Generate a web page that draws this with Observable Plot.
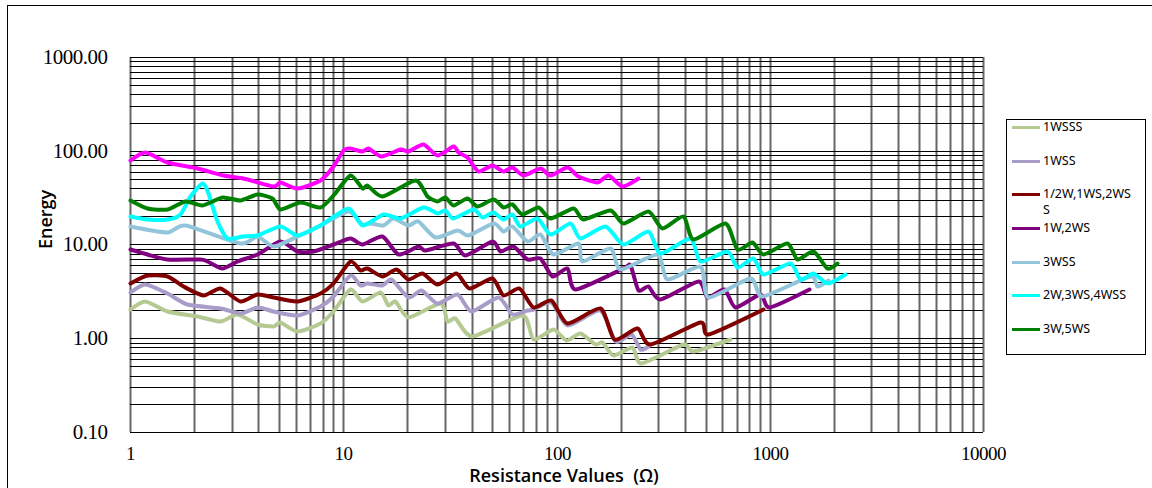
<!DOCTYPE html>
<html>
<head>
<meta charset="utf-8">
<script src="https://cdn.jsdelivr.net/npm/d3@7"></script>
<script src="https://cdn.jsdelivr.net/npm/@observablehq/plot@0.6"></script>
<style>
  html, body { margin: 0; padding: 0; background: #fff; }
  body { width: 1152px; height: 488px; position: relative; overflow: hidden; }
  #frame { position: absolute; left: 7px; top: 5px; width: 1300px; height: 700px; border: 1px solid #000; }
  #chart { position: absolute; left: 0; top: 0; }
  #legend { position: absolute; left: 1006px; top: 119px; width: 138px; height: 234px; border: 1px solid #000; background: #fff;
            font-family: "Noto Sans", sans-serif; font-size: 12.5px; color: #000; }
  .swatch { position: absolute; left: 5px; width: 28px; height: 3px; }
  .lab { position: absolute; left: 36px; white-space: nowrap; line-height: 12px; }
  #chart g[aria-label="y-axis tick label"] text, #chart g[aria-label="x-axis tick label"] text { letter-spacing: -0.5px; }
</style>
</head>
<body>
<div id="frame"></div>
<div id="chart"></div>
<div id="legend"></div>
<script>
// ---- tick values ----
const xTicks = [1, 10, 100, 1000, 10000];
const yTicks = [0.1, 1, 10, 100, 1000];
const minorSteps = [1, 2, 3, 4, 5, 6, 7, 8, 9];

// ---- legend names & colours ----
const names = ["1WSSS", "1WSS", "1/2W,1WS,2WSS", "1W,2WS", "3WSS", "2W,3WS,4WSS", "3W,5WS"];
const colors = ["#B5CA92", "#A89CC8", "#800000", "#800080", "#92C4DA", "#00FFFF", "#008000"];
const extraColor = "#FF00FF"; // series without legend entry

// ---- series: [resistance (Ω), energy] ----
const sMagenta = [[1,80],[1.18,96],[1.49,75],[2.06,66],[2.74,55.6],[3.4,51.2],[4.7,42.4],[5.05,46],[6.05,40.1],[7.78,49.1],[8.98,68.1],[10,102.5],[10.8,107],[12.2,98.4],[13.1,107],[15.1,88.5],[18.5,105],[20.2,98.4],[23.7,118],[27.4,90.7],[32.8,113],[34.6,95.9],[37.9,85.7],[43,60.2],[49.7,71],[56.3,60.2],[61.7,66.4],[69.9,55.6],[83.7,65.5],[93.2,55.6],[111.6,66.4],[126.6,53.3],[154.3,46.5],[175,55.6],[202,41.7],[242,51.2]];

const s1WSSS = [[1,2.07],[1.18,2.49],[1.49,1.95],[2.06,1.73],[2.64,1.53],[3.17,1.8],[3.93,1.43],[4.7,1.35],[5.05,1.49],[6.05,1.2],[7.78,1.47],[8.98,1.95],[10.76,3.38],[12.2,2.49],[14.9,3.11],[16.3,2.24],[17.5,2.49],[20.2,1.7],[28.4,2.4],[30.6,1.53],[33.4,1.66],[40,1.06],[68.7,1.76],[77.6,0.976],[96.3,1.25],[110.8,0.952],[128.9,1.13],[151.6,0.863],[163.5,0.906],[184,0.66],[226,0.802],[249,0.542],[392,0.863],[438,0.727],[651,0.976]];

const s1WSS = [[1,3.14],[1.18,3.75],[1.49,3.06],[1.85,2.3],[2.64,2.12],[3.28,1.88],[3.93,2.17],[4.7,1.95],[6.05,1.77],[7.78,2.2],[8.98,2.82],[10.76,4.74],[12,3.66],[12.9,3.91],[15.15,3.66],[16.7,4.24],[20.2,2.76],[23.1,3.24],[27.4,2.4],[34.2,2.94],[39.7,1.95],[53.2,2.76],[61.7,1.8],[72.5,2.01],[77.6,2.05],[94.2,2.45],[112,1.4],[160,2.02],[188,0.93],[224,1.12],[246,0.764],[268.5,0.822]];

const sHalfW = [[1,3.85],[1.2,4.68],[1.49,4.6],[1.78,3.6],[2.21,2.87],[2.64,3.46],[3.28,2.49],[3.93,2.94],[4.7,2.75],[6.05,2.49],[7.78,3.06],[8.98,3.91],[10.76,6.64],[12,5.33],[12.9,5.65],[15.15,4.6],[17.7,5.49],[20.2,4.24],[23.3,5],[27.4,3.75],[33.8,4.91],[38.9,3.4],[50.1,4.42],[56.3,2.87],[66.7,3.4],[77.2,2.14],[94.2,2.57],[111.6,1.47],[160,2.12],[187,0.976],[237.7,1.28],[274.5,0.863],[471,1.5],[511,1.117],[933,2.03]];

const s1W2WS = [[1,9],[1.2,7.83],[1.49,7.05],[2.13,7.05],[2.29,6.64],[2.69,5.65],[3.17,6.64],[3.93,7.83],[5.05,11],[6.05,8.49],[7.24,8.49],[8.98,10],[10.76,11.8],[12.2,10],[15.15,12.3],[18.1,7.83],[22.5,9.75],[24.2,8.7],[32.8,10.4],[37.2,7.64],[49.7,10.8],[54.3,8.49],[62.7,9.6],[72.5,6.93],[83.7,7.22],[94.9,4.6],[111.6,5.65],[122.1,3.32],[205.7,5.65],[221,6.05],[241,3.24],[269.5,3.6],[305.7,2.6],[461,4.04],[508,2.73],[610,3.32],[687,2.14],[900,2.94],[992,2.14],[1528,3.32]];

const s3WSS = [[1,15.9],[1.49,13.5],[1.81,16.3],[3.28,10.4],[3.93,12.2],[4.7,9.6],[6.05,12.3],[7.78,16.1],[10.5,23],[12.2,16.7],[13.35,17],[15.4,16.3],[17.2,19.2],[20.2,16.3],[22.5,17.7],[26.9,12.1],[34,14.4],[38.6,12.5],[50.5,17],[56.3,14.1],[61.9,15.9],[72.5,10.8],[83.7,12.8],[96.6,7.83],[126,10.5],[131.7,6.6],[178,9.22],[199,5.42],[295,7.83],[329,4.24],[471,5.88],[513,2.73],[808,4.42],[917,2.82],[1545,4.6],[1660,3.57],[1876,4.14]];

const s2W3WS = [[1,20.3],[1.2,18.8],[1.49,18.5],[1.72,20.9],[1.91,32.7],[2.17,45.3],[2.33,35.5],[2.55,17.7],[2.84,11.8],[3.34,12.3],[3.93,12.5],[5.05,15.9],[6.05,12.5],[7.78,16.3],[10.5,24.5],[12.2,16.3],[15.4,21.4],[18.5,19.2],[23.7,25.2],[27.4,21.7],[30,23.6],[32.8,19.2],[40.7,24],[44.6,19.7],[50.5,22.1],[56.3,18.5],[61.7,20.9],[67.4,15.7],[80.8,19.2],[93.2,13.1],[115.7,17],[128.9,11.8],[168.8,15.7],[205.7,10],[268.5,13.9],[305.7,8.16],[423,11.8],[471,6.64],[628,8.49],[700,5.79],[837,7.22],[933,4.8],[1245,6.39],[1387,4.24],[1600,5],[1849,3.91],[2254,4.88]];

const s3W5WS = [[1,29.6],[1.2,24.6],[1.49,24],[1.81,28.9],[2.17,26.6],[2.69,32.2],[3.28,30.1],[3.93,34.9],[4.62,31.4],[5.05,24],[6.27,28.2],[7.78,25.2],[8.98,34],[10.76,54.9],[12.2,40.1],[12.9,43.5],[15.15,32.7],[21.7,49.1],[24.6,32.7],[27.4,28.9],[30,31.9],[32.8,26.6],[37.9,31.4],[42.3,25.6],[50.5,30.6],[56.3,25.2],[61.7,27.3],[68.7,20.9],[82.2,25.2],[93.2,19.2],[120,24.6],[133.6,18.5],[178,23.6],[206,17.1],[268,22.7],[311,15],[393,20],[438,11.5],[617,17],[700,8.85],[823,10.6],[933,7.83],[1201,10.4],[1338,6.93],[1600,8.49],[1849,5.65],[2061,6.39]];

const legendSeries = [s1WSSS, s1WSS, sHalfW, s1W2WS, s3WSS, s2W3WS, s3W5WS];

// grid positions (decade x minor steps)
const xGrid = xTicks.slice(0, -1).flatMap(d => minorSteps.map(k => d * k)).concat([xTicks[xTicks.length - 1]]);
const yGrid = yTicks.slice(0, -1).flatMap(d => minorSteps.map(k => d * k)).concat([yTicks[yTicks.length - 1]]);

const lineMark = (data, color) => Plot.line(data, {
  x: d => d[0], y: d => d[1], stroke: color, strokeWidth: 4,
  curve: "cardinal", tension: 0.35, strokeLinejoin: "round", strokeLinecap: "round"
});

const chart = Plot.plot({
  width: 1152,
  height: 488,
  marginLeft: 130,
  marginRight: 169,
  marginTop: 57,
  marginBottom: 56,
  style: { background: "transparent", color: "#000" },
  x: { type: "log", domain: [1, 10000], round: true },
  y: { type: "log", domain: [0.1, 1000], round: true },
  marks: [
    Plot.ruleX(xGrid, { stroke: "#666", strokeWidth: 2 }),
    Plot.ruleY(yGrid, { stroke: "#000", strokeWidth: 1 }),
    lineMark(sMagenta, extraColor),
    ...legendSeries.map((s, i) => lineMark(s, colors[i])),
    Plot.axisY(yTicks, { tickSize: 0, tickPadding: 23, tickFormat: d => d.toFixed(2), fontSize: 21,
      fontFamily: "Liberation Serif", label: null, fill: "#000" }),
    Plot.axisX(xTicks, { tickSize: 0, tickPadding: 14, tickFormat: d => String(d), fontSize: 19,
      fontFamily: "Liberation Serif", label: null, fill: "#000" }),
    Plot.text(["Energy"], { text: d => d, frameAnchor: "left", dx: -84, dy: 4, rotate: -90,
      fontSize: 18, fontWeight: 600, fontFamily: "Open Sans", fill: "#000" }),
    Plot.text(["Resistance Values  (Ω)"], { text: d => d, frameAnchor: "bottom", dx: 7, dy: 49,
      fontSize: 18, fontWeight: 600, fontFamily: "Open Sans", fill: "#000" })
  ]
});
document.getElementById("chart").appendChild(chart);

// ---- legend ----
const legend = document.getElementById("legend");
names.forEach((name, i) => {
  const cy = 7.7 + i * 33.6;
  const sw = document.createElement("div");
  sw.className = "swatch";
  sw.style.top = (cy - 1.5) + "px";
  sw.style.background = colors[i];
  legend.appendChild(sw);
  const parts = name === "1/2W,1WS,2WSS" ? ["1/2W,1WS,2WS", "S"] : [name];
  parts.forEach((p, j) => {
    const t = document.createElement("div");
    t.className = "lab";
    t.textContent = p;
    t.style.top = (cy - 6.5 + j * 16) + "px";
    legend.appendChild(t);
  });
});
</script>
</body>
</html>
